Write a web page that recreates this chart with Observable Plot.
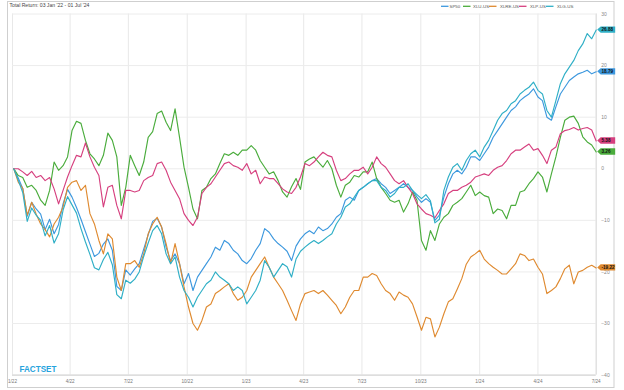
<!DOCTYPE html>
<html><head><meta charset="utf-8">
<script src="https://cdn.jsdelivr.net/npm/d3@7"></script>
<script src="https://cdn.jsdelivr.net/npm/@observablehq/plot@0.6"></script>
<style>
html,body{margin:0;padding:0;background:#fff;}
#chart{width:624px;height:390px;overflow:hidden;}
</style></head><body><div id="chart"></div>
<script>
// ---- data (weekly total return %, from 03 Jan 2022 to 01 Jul 2024) ----
const seriesNames = ["SP50", "XLU-US", "XLRE-US", "XLP-US", "XLG-US"];
const seriesColors = ["#3d98de", "#4aac3c", "#df8a30", "#d6407f", "#2fafc6"];

const sp50 = [0, -1.8, -3.8, -9.2, -6.5, -7.8, -8.8, -11.8, -9.8, -12.6, -10.8, -6.8, -4, -5.5, -7.5, -9.8, -12.2, -14.6, -17, -16.4, -14.6, -13.6, -15.8, -22.8, -23.6, -19.6, -20.6, -19.4, -18.4, -15.6, -12.8, -10.2, -9.6,
  -11.3, -15.2, -17.8, -16.5, -18.4, -22.3, -20.3, -23.6, -21, -19.7, -18.4, -17.1, -15.2, -15.8, -13.9, -14.5, -15.8, -16.5, -17.8, -18.4, -17.4, -15.8, -14.5, -11.6, -12.3, -13.6, -14.5, -15.2, -16, -17.8, -15, -13.6,
  -12.6, -12, -12.6, -11.3, -12, -11.6, -10.7, -9.4, -8.7, -6.1, -5.5, -6.1, -4.2, -3.6, -2.9, -2.3, -1.9, -2.9, -3.6, -4.8, -4.2, -3.6, -2.9, -3.6, -4.2, -5.5, -6.5, -5.8, -6.5, -10, -9,
  -5.5, -2.9, -1, -0.3, -1, 0.3, 2.3, 2.3, 1.6, 2.9, 4.2, 6.1, 7.4, 8.7, 10, 11.3, 12, 13.2, 13.9, 14.5, 15.5, 13.9, 13.2, 10, 9.4, 12, 14.5, 15.8, 17.1, 17.8, 18.4, 18.7, 19.1, 18.4, 18.79];

const xlu = [0, -1.3, -1.7, -3.6, -3.2, -4.2, -6.1, -7.1, -4.2, 1.3, -0.3, 0.6, 2.3, 7.4, 9.2, 8.8, 5.5, 2.9, 1.9, 0.6, 2.6, 6.9, 5.5, 2.3, -7.1, -3.6, 2.6, 0.6, -1.3, 1.3, 6.1, 7.2, 10.7,
  11.2, 9, 7.4, 11.6, 6.1, 0.3, -3.6, -7.8, -9.7, -4.2, -3.6, -1.9, -1, 1, 2.9, 2.6, 3.2, 2.6, 3.6, 3.6, 4.5, 3.6, 1.6, 0.3, -1, -0.6, -2.3, -4.5, -5.5, -3.5, -1.9, -4,
  1.3, 1.9, 2.3, 1.3, 0.3, 1.6, 0, -3.2, -5.5, -3.2, -2.6, -1.3, -1.6, -0.6, -0.6, 1.3, -1.9, -3.6, -4.8, -6.1, -6.5, -6.1, -8.4, -6.8, -4.5, -6.1, -13.9, -15.8, -12, -13.9, -10.7,
  -9.4, -8.7, -7.1, -6.5, -5.8, -4.5, -3.2, -5.2, -4.5, -5.2, -5.5, -8.7, -7.8, -8.1, -9.7, -7.1, -7.1, -4.5, -4.2, -2.9, -1.9, -0.6, -1.6, -4.5, -1, 2.3, 6.1, 9.4, 10, 10.2, 8.8, 6.2, 5.2, 4.6, 3.26];

const xlre = [0, -2.6, -3.8, -9, -6.5, -8.8, -10.7, -11.8, -13.2, -10.7, -9.4, -7.4, -3.6, -2.6, -2.3, -4.2, -3.2, -8.7, -10.7, -13.9, -16.5, -12.6, -13.6, -21, -23.6, -18.4, -18.4, -17.8, -19.1, -16.5, -12.6, -10.7, -9.4,
  -11.3, -14.5, -18.4, -14.5, -18.4, -22.9, -26.8, -30, -31.3, -29.4, -26.8, -26.2, -24.2, -23.6, -22.9, -22.3, -24.2, -25.5, -24.9, -23.6, -21, -19.7, -18.4, -17.1, -19.1, -21, -22.3, -23.6, -25.5, -27.5, -29.4, -26.2,
  -24.2, -23.9, -23.6, -24.2, -23.6, -24.5, -25.5, -26.5, -28.1, -26.8, -24.9, -23.6, -23.6, -21, -21, -20.3, -20.7, -22.3, -23.6, -24.2, -25.5, -23.9, -24.5, -24.9, -26.2, -28.7, -31.3, -28.8, -29.1, -32.6, -30.7,
  -28.1, -25.8, -25.2, -23.3, -21.3, -18.5, -17.1, -16.5, -15.8, -17.5, -18.4, -19.1, -19.7, -20.4, -20.4, -19.4, -18.4, -16.5, -16.8, -17.8, -17.5, -19.1, -20.4, -24.2, -23.6, -22.9, -21.3, -19.4, -18.7, -22.3, -20, -19.7, -19.1, -18.7, -19.22];

const xlp = [0, 0, -0.6, -1.3, -0.5, -1.7, -1.3, -2.3, -1.7, -3.9, -6.8, -4.2, -1.6, 0.6, 2.6, 2.3, 5, 2.3, 0.3, -1.3, -7.4, -3.6, -3.2, -7.1, -9.7, -4.2, -4.2, -4.5, -4.2, -2.3, -1.7, -1.3, 1,
  1.3, -0.3, -2.6, -4.2, -5.8, -8.7, -10, -11, -9.4, -4.8, -3.6, -2.9, -1.6, -0.3, 1, 1.3, 0.6, 0.3, -0.3, 1, -1, -0.3, -2.9, -1.6, -1.9, -1.9, -2.9, -3.9, -4.5, -4.8, -3.6, -1.6,
  1, 0.6, 1.3, 2.3, 3.2, 2.6, 2.3, -0.3, -2.3, -1.9, -1, -0.3, -0.3, 0.3, -1, 0.3, 2.3, 1, 0.3, -1, -2.3, -2.9, -2.3, -3.6, -4.8, -6.8, -7.8, -8.7, -9, -9.5, -8.1,
  -6.8, -4.8, -4.2, -4.2, -3.6, -3.2, -2.6, -1.6, -1.3, -1, -1.3, -0.3, 0.3, 0.6, 1.6, 2.9, 3.6, 3.6, 4.2, 4.8, 3.6, 3.9, 2.6, 1, 3.6, 4.2, 6.8, 7.4, 7.6, 8, 7.5, 7.8, 8, 7.5, 5.38];

const xlg = [0, -2.2, -4.6, -10.2, -7.6, -9, -10, -13, -11, -14.4, -12.6, -8, -5.4, -7, -8.6, -11.6, -14.2, -16.6, -19.2, -19.6, -17.6, -16.2, -18.6, -24.4, -25.2, -21.6, -22.2, -21.4, -20, -17, -14.4, -12, -11,
  -12.6, -16.5, -18.4, -17.1, -21, -23.6, -24.9, -26.8, -24.9, -23.6, -22.3, -21.6, -20, -21, -21.6, -22.3, -23.6, -22.9, -23.6, -26.2, -24.9, -23.6, -21.6, -17.8, -19.1, -21, -19.7, -18.4, -19, -21, -17.5, -16,
  -15.2, -14.5, -13.9, -14.5, -13.9, -13.2, -12.6, -10.7, -9.4, -7.4, -6.8, -5.5, -4.2, -3.6, -2.9, -2.3, -2.3, -3.6, -4.2, -5.5, -4.8, -3.6, -3.6, -2.9, -4.2, -5, -5.8, -5, -6.2, -10.5, -9.8,
  -4.2, -1.6, 0.3, 1, -0.3, 1.6, 2.9, 3.6, 2.3, 4.2, 5.5, 7.4, 9.4, 10.7, 11.3, 12.6, 13.2, 14.5, 15.2, 15.8, 16.8, 15.2, 14.5, 11.3, 10, 13.2, 16.5, 18.4, 19.7, 21, 22.9, 24.2, 26.2, 25.2, 26.88];

const xTickLabels = ["1/22","4/22","7/22","10/22","1/23","4/23","7/23","10/23","1/24","4/24","7/24"];
const yTicks = [-40, -30, -20, -10, 0, 10, 20, 30];
const titleText = "Total Return: 03 Jan '22 - 01 Jul '24";

// ---- build table ----
const dates = d3.utcMonday.range(new Date(Date.UTC(2022,0,3)), new Date(Date.UTC(2024,6,2)));
const allSeries = [sp50, xlu, xlre, xlp, xlg];
const rows = [];
allSeries.forEach((vals, i) => vals.forEach((v, k) => rows.push({series: seriesNames[i], date: dates[k], value: v})));
const parseTick = s => { const [m, y] = s.split("/"); return new Date(Date.UTC(2000 + +y, +m - 1, 1)); };
const xTicks = xTickLabels.map(parseTick);

const font = "'Liberation Sans', Arial, sans-serif";
const chart = Plot.plot({
  width: 624, height: 390,
  marginLeft: 12, marginRight: 28.3, marginTop: 13.5, marginBottom: 15.4,
  style: {fontFamily: font, background: "#fff", overflow: "visible"},
  x: {type: "utc", domain: [new Date(Date.UTC(2022,0,1)), new Date(Date.UTC(2024,6,1))]},
  y: {domain: [-40, 30]},
  color: {domain: seriesNames, range: seriesColors},
  marks: [
    Plot.gridX(xTicks, {stroke: "#e8e8e8", strokeOpacity: 1}),
    Plot.gridY(yTicks, {stroke: "#ececec", strokeOpacity: 1}),
    Plot.ruleY([-40], {stroke: "#cfcfcf"}),
    Plot.ruleX([xTicks[xTicks.length - 1]], {stroke: "#dcdcdc"}),
    Plot.axisX(xTicks, {tickSize: 0, tickPadding: 5, fontSize: 4.6, fill: "#777", tickFormat: (d, i) => xTickLabels[i], label: null}),
    Plot.axisY(yTicks, {anchor: "right", tickSize: 0, tickPadding: 5, fontSize: 5, fill: "#888", label: null}),
    Plot.lineY(rows, {x: "date", y: "value", stroke: "series", z: "series", strokeWidth: 1.15, curve: "linear"})
  ]
});
document.getElementById("chart").appendChild(chart);

// ---- decorations ----
const svg = d3.select(chart);
const xs = chart.scale("x"), ys = chart.scale("y");
const deco = svg.append("g").attr("text-anchor", "start").attr("font-family", font);

// outer frame
deco.append("rect").attr("x", 7.5).attr("y", 1.5).attr("width", 606.5).attr("height", 386)
  .attr("fill", "none").attr("stroke", "#cfcfcf").attr("stroke-width", 1);

// title
deco.append("text").attr("x", 9.5).attr("y", 7.4).text(titleText)
  .attr("font-size", 5.1).attr("fill", "#444");

// legend
const legendX = [441, 463, 489, 519, 546];
const legendTextX = [449.5, 473, 500, 530, 557];
seriesNames.forEach((n, i) => {
  deco.append("line").attr("x1", legendX[i]).attr("x2", legendX[i] + 7.5).attr("y1", 6.3).attr("y2", 6.3)
    .attr("stroke", seriesColors[i]).attr("stroke-width", 1.3);
  deco.append("text").attr("x", legendTextX[i]).attr("y", 7.9).text(n)
    .attr("font-size", 4.4).attr("fill", "#555");
});

// FACTSET logo text
deco.append("text").attr("x", 19.5).attr("y", 371.5).text("FACTSET")
  .attr("font-size", 9.6).attr("font-weight", "bold").attr("fill", "#27a3dd")
  .attr("textLength", 37).attr("lengthAdjust", "spacingAndGlyphs");

// value tags at the right end
const x0 = xs.apply(dates[dates.length - 1]) + 1.5;
allSeries.forEach((vals, i) => {
  const v = vals[vals.length - 1];
  const y = ys.apply(v);
  const h = 3.2, w = 18;
  deco.append("path")
    .attr("d", `M${x0},${y} L${x0 + 3.5},${y - h} L${x0 + w},${y - h} L${x0 + w},${y + h} L${x0 + 3.5},${y + h} Z`)
    .attr("fill", seriesColors[i]);
  deco.append("text").attr("x", x0 + 4.3).attr("y", y + 1.6).text(v.toFixed(2))
    .attr("font-size", 4.6).attr("font-weight", "bold").attr("fill", "#111");
});
</script></body></html>
